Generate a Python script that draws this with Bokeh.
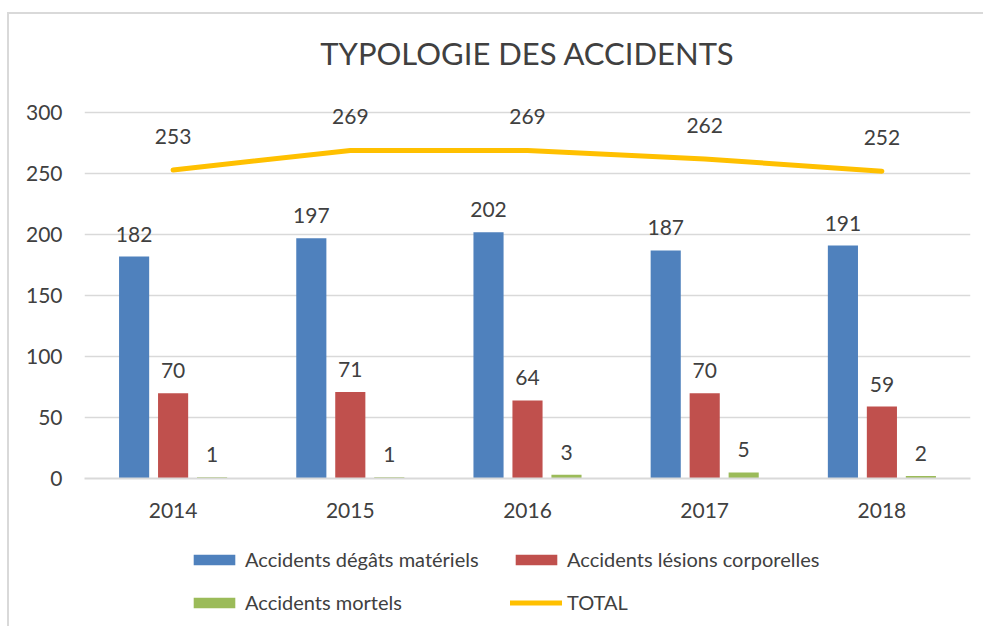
from bokeh.plotting import figure
from bokeh.layouts import column
from bokeh.models import ColumnDataSource, Range1d, FactorRange, Legend, LegendItem, FixedTicker
from bokeh.transform import dodge
from bokeh.core.properties import value
from bokeh.embed import file_html
from bokeh.resources import INLINE

years = ["2014", "2015", "2016", "2017", "2018"]
materiels = [182, 197, 202, 187, 191]
corporelles = [70, 71, 64, 70, 59]
mortels = [1, 1, 3, 5, 2]
total = [253, 269, 269, 262, 252]
y_ticks = [0, 50, 100, 150, 200, 250, 300]
series_names = ["Accidents dégâts matériels", "Accidents lésions corporelles",
                "Accidents mortels", "TOTAL"]

FONT = "Lato"
TXT = "#404040"
BLUE = "#4F81BD"
RED = "#C0504D"
GREEN = "#9BBB59"
GOLD = "#FFC000"

src = ColumnDataSource(dict(
    year=years, mat=materiels, cor=corporelles, mor=mortels, tot=total,
    mat_t=[str(v) for v in materiels], cor_t=[str(v) for v in corporelles],
    mor_t=[str(v) for v in mortels], tot_t=[str(v) for v in total],
))

FH = 388  # frame height: 300 units span 364 px, extra room above for labels
p = figure(x_range=FactorRange(*years), y_range=Range1d(0, 300 * FH / 364),
           frame_width=884, frame_height=FH, output_backend="svg", toolbar_location=None,
           min_border_left=75, min_border_right=15, min_border_top=74,
           min_border_bottom=50)
p.styles = {"margin-left": "7px", "margin-top": "12px",
            "border-left": "2px solid #d9d9d9", "border-top": "2px solid #d9d9d9"}

p.title.text = "TYPOLOGIE DES ACCIDENTS"
p.title.align = "center"
p.title.text_font = FONT
p.title.text_font_size = "31px"
p.title.text_font_style = "normal"
p.title.text_color = TXT
p.title.standoff = 33

p.outline_line_color = None
p.xgrid.grid_line_color = None
p.ygrid.grid_line_color = "#d9d9d9"
p.ygrid.grid_line_width = 1.5
p.yaxis.ticker = FixedTicker(ticks=y_ticks)
p.yaxis.axis_line_color = None
p.yaxis.major_tick_line_color = None
p.yaxis.minor_tick_line_color = None
p.yaxis.major_label_text_font = FONT
p.yaxis.major_label_text_font_size = "21px"
p.yaxis.major_label_text_color = TXT
p.yaxis.major_label_standoff = 16
p.xaxis.axis_line_color = "#d9d9d9"
p.xaxis.axis_line_width = 2
p.xaxis.major_tick_line_color = None
p.xaxis.minor_tick_line_color = None
p.xaxis.major_label_text_font = FONT
p.xaxis.major_label_text_font_size = "21px"
p.xaxis.major_label_text_color = TXT
p.xaxis.major_label_standoff = 18

off = 0.22
bw = 0.17
p.vbar(x=dodge("year", -off, range=p.x_range), top="mat", width=bw, source=src,
       fill_color=BLUE, line_color=None)
p.vbar(x=dodge("year", 0, range=p.x_range), top="cor", width=bw, source=src,
       fill_color=RED, line_color=None)
p.vbar(x=dodge("year", off, range=p.x_range), top="mor", width=bw, source=src,
       fill_color=GREEN, line_color=None)
p.line(x="year", y="tot", source=src, line_color=GOLD, line_width=5, line_cap="round")

common = dict(source=src, text_font=value(FONT), text_font_size="21px", text_color=TXT,
              text_align="center", text_baseline="bottom")
p.text(x=dodge("year", -off, range=p.x_range), y="mat", text="mat_t", y_offset=-15, **common)
p.text(x=dodge("year", 0, range=p.x_range), y="cor", text="cor_t", y_offset=-15, **common)
p.text(x=dodge("year", off, range=p.x_range), y="mor", text="mor_t", y_offset=-15, **common)
p.text(x="year", y="tot", text="tot_t", y_offset=-26, **common)

# legend strip below the chart (its renderers sit outside the visible range)
p2 = figure(x_range=Range1d(0, 1), y_range=Range1d(0, 1), frame_width=974, frame_height=100,
            output_backend="svg", toolbar_location=None, x_axis_type=None, y_axis_type=None,
            min_border=0)
p2.styles = {"margin-left": "7px", "border-left": "2px solid #d9d9d9"}
p2.outline_line_color = None
p2.xgrid.grid_line_color = None
p2.ygrid.grid_line_color = None
hidden = ColumnDataSource(dict(x=[5, 6], y=[5, 5]))
l1 = p2.vbar(x="x", top="y", bottom=4, width=0.1, source=hidden, fill_color=BLUE, line_color=None)
l2 = p2.vbar(x="x", top="y", bottom=4, width=0.1, source=hidden, fill_color=RED, line_color=None)
l3 = p2.vbar(x="x", top="y", bottom=4, width=0.1, source=hidden, fill_color=GREEN, line_color=None)
l4 = p2.line(x="x", y="y", source=hidden, line_color=GOLD, line_width=5, line_cap="round")

legend = Legend(items=[LegendItem(label=n, renderers=[r])
                       for n, r in zip(series_names, [l1, l2, l3, l4])],
                ncols=2, location=(179, 12), orientation="horizontal")
legend.border_line_color = None
legend.background_fill_alpha = 0
legend.label_text_font = FONT
legend.label_text_font_size = "20px"
legend.label_text_color = TXT
legend.glyph_width = 52
legend.glyph_height = 13
legend.label_height = 20
legend.label_width = 246
legend.label_standoff = 5
legend.spacing = 19
legend.padding = 0
legend.margin = 0
p2.add_layout(legend, "center")

layout = column(p, p2, spacing=0)
open("out.html", "w").write(file_html(layout, INLINE))
